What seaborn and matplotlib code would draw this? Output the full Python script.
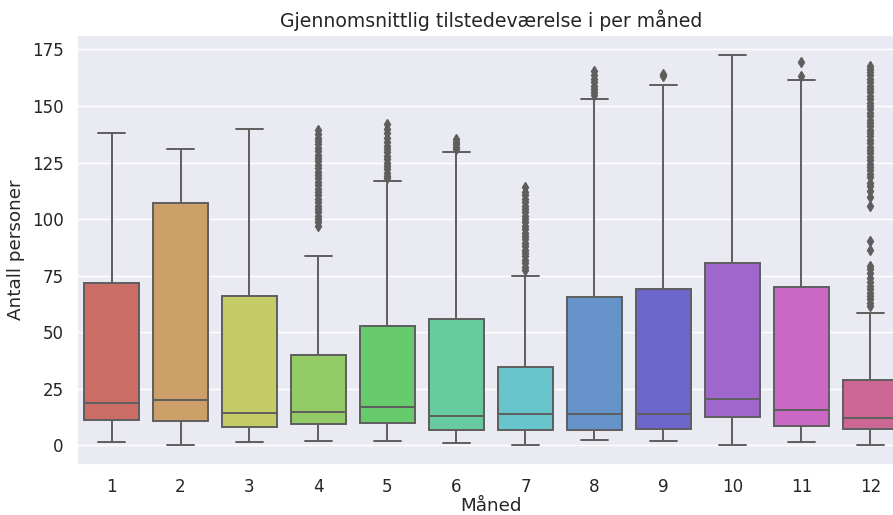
import numpy as np
import pandas as pd
import matplotlib
matplotlib.use("Agg")
import matplotlib.pyplot as plt
import seaborn as sns

# Monthly attendance summary: lower whisker, quartiles, upper whisker, outliers
months = [1, 2, 3, 4, 5, 6, 7, 8, 9, 10, 11, 12]
whisker_low = [1.6, 0.0, 1.6, 2.0, 2.0, 1.2, 0.0, 2.5, 2.0, 0.0, 1.6, 0.0]
q1 = [11.1, 10.7, 8.0, 9.4, 9.9, 6.7, 6.7, 6.7, 7.2, 12.4, 8.5, 7.2]
median = [18.6, 19.9, 14.2, 14.6, 16.8, 12.9, 13.7, 13.7, 13.7, 20.5, 15.5, 12.1]
q3 = [71.6, 107.2, 65.9, 39.9, 52.8, 56.0, 34.8, 65.7, 68.9, 80.8, 69.9, 28.7]
whisker_high = [137.9, 130.8, 140.0, 83.5, 116.8, 129.5, 74.7, 153.1, 159.2, 172.7, 161.3, 58.6]

outliers = {
    1: [],
    2: [],
    3: [],
    4: [97.0, 98.5, 100.0, 101.5, 103.0, 104.5, 106.0, 107.5, 109.0, 110.5,
        112.0, 113.5, 115.0, 116.5, 118.0, 119.5, 121.0, 122.5, 124.0, 125.5,
        127.0, 128.5, 130.0, 131.5, 133.0, 134.5, 136.0, 137.5, 139.5],
    5: [118.0, 119.0, 120.5, 122.0, 123.5, 125.0, 126.5, 128.0, 129.5, 131.0,
        132.5, 134.0, 136.0, 138.0, 140.0, 142.0],
    6: [131.0, 132.0, 133.0, 134.0, 135.5],
    7: [77.5, 79.0, 80.5, 82.0, 83.5, 85.0, 86.5, 88.0, 89.5, 91.0, 92.5, 94.0,
        95.5, 97.0, 98.5, 100.0, 101.5, 103.0, 104.5, 106.0, 107.5, 109.0,
        110.5, 112.0, 114.0],
    8: [155.0, 156.0, 157.5, 159.0, 160.5, 162.0, 163.5, 165.5],
    9: [163.2, 164.2],
    10: [],
    11: [163.3, 169.2],
    12: [61.5, 63.0, 64.5, 66.0, 67.5, 69.0, 70.5, 72.0, 74.0, 76.0, 78.0, 79.5,
         86.5, 90.5,
         105.8, 109.8, 112.6, 114.5, 116.0, 118.5, 120.0, 121.5, 123.0, 124.5,
         126.0, 127.5, 129.0, 130.5, 132.0, 133.5, 135.0, 136.5, 138.0, 139.5,
         141.0, 142.5, 144.0, 145.5, 147.0, 148.5, 150.0, 151.5, 153.0, 154.5,
         156.0, 157.5, 159.0, 160.5, 162.0, 163.5, 165.0, 166.5, 167.8],
}

# Build long-form records whose quartiles equal the summary values:
# each quartile value is weighted so it occupies its own rank block.
rows = []
for i, m in enumerate(months):
    extra = outliers[m]
    w = len(extra) + 2
    vals = ([whisker_low[i]] + [q1[i]] * w + [median[i]] * w + [q3[i]] * w
            + [whisker_high[i]] + extra)
    rows += [(m, v) for v in vals]
df = pd.DataFrame(rows, columns=["Måned", "Antall personer"])

sns.set_theme(style="darkgrid", font_scale=1.1)

fig = plt.figure(figsize=(8.93, 5.15), dpi=100)
ax = fig.add_axes([77 / 893, 50 / 515, 828 / 893, 430 / 515])

palette = sns.color_palette("hls", 12)
gray = "#5e5e5e"
sns.boxplot(
    data=df, x="Måned", y="Antall personer", hue="Måned",
    palette=palette, legend=False, ax=ax, linecolor=gray, linewidth=1.4,
    flierprops={"marker": "d", "markerfacecolor": gray,
                "markeredgecolor": gray, "markersize": 5},
)
ax.set_title("Gjennomsnittlig tilstedeværelse i per måned", fontsize=13.6)
ax.set_yticks([0, 25, 50, 75, 100, 125, 150, 175])
ax.xaxis.labelpad = 0.5
ax.yaxis.labelpad = 5

fig.savefig("out.png", dpi=100)
